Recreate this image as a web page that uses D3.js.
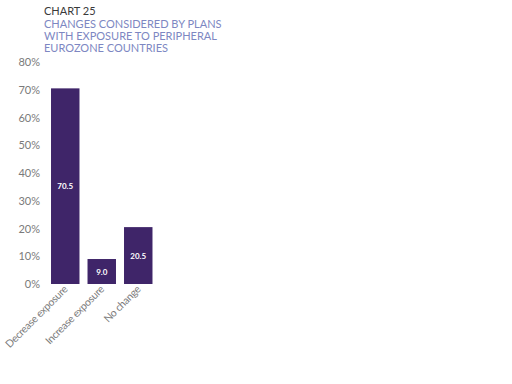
<html>
<head>
<script src="https://cdn.jsdelivr.net/npm/d3@7"></script>
<style>
  body { margin: 0; background: #fff; }
  text { font-family: Lato, "Open Sans", sans-serif; }
  .title { fill: #3a3a3a; font-size: 11px; }
  .subtitle { fill: #7d87c2; font-size: 11px; }
  .axis text { fill: #7a7a7a; font-size: 11px; }
  .axis path, .axis line { display: none; }
  .bar { fill: #3f2569; }
  .val { fill: #fff; font-size: 8px; font-weight: bold; }
  .xlab { fill: #7a7a7a; font-size: 10.5px; letter-spacing: -0.3px; }
</style>
</head>
<body>
<svg width="512" height="384"></svg>
<script>
var categories = ["Decrease exposure", "Increase exposure", "No change"];
var values = [70.5, 9.0, 20.5];
var yTicks = [0, 10, 20, 30, 40, 50, 60, 70, 80];
var titleLines = ["CHANGES CONSIDERED BY PLANS", "WITH EXPOSURE TO PERIPHERAL", "EUROZONE COUNTRIES"];

var svg = d3.select("svg");

svg.append("text").attr("class", "title")
   .attr("x", 44).attr("y", 15).text("CHART 25");

svg.selectAll(".subtitle").data(titleLines).enter()
   .append("text").attr("class", "subtitle")
   .attr("x", 44).attr("y", function(d, i) { return 28 + i * 12; })
   .text(function(d) { return d; });

var x = d3.scaleBand().domain(categories).range([47, 156.5])
   .paddingInner(0.22).paddingOuter(0.11);
var y = d3.scaleLinear().domain([0, 80]).range([284, 62]);

svg.append("g").attr("class", "axis")
   .attr("transform", "translate(40,0)")
   .call(d3.axisLeft(y).tickValues(yTicks).tickSize(0).tickPadding(0)
      .tickFormat(function(d) { return d + "%"; }));

svg.selectAll(".bar").data(values).enter()
   .append("rect").attr("class", "bar")
   .attr("x", function(d, i) { return x(categories[i]); })
   .attr("width", x.bandwidth())
   .attr("y", function(d) { return y(d); })
   .attr("height", function(d) { return y(0) - y(d); });

svg.selectAll(".val").data(values).enter()
   .append("text").attr("class", "val")
   .attr("text-anchor", "middle")
   .attr("x", function(d, i) { return x(categories[i]) + x.bandwidth() / 2; })
   .attr("y", function(d) { return (y(d) + y(0)) / 2 + 3; })
   .text(function(d) { return d.toFixed(1); });

svg.selectAll(".xlab").data(categories).enter()
   .append("text").attr("class", "xlab")
   .attr("text-anchor", "end")
   .attr("transform", function(d) {
      return "translate(" + (x(d) + x.bandwidth() / 2 + 3) + ",290) rotate(-45)";
   })
   .text(function(d) { return d; });
</script>
</body>
</html>
